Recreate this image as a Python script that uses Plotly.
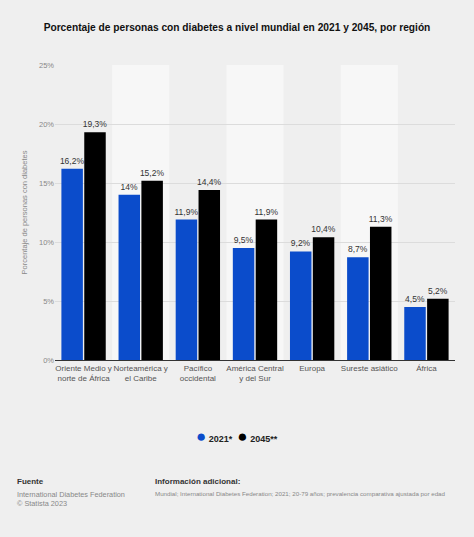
import plotly.graph_objects as go

# data
regions = [
	'Oriente Medio y<br>norte de África',
	'Norteamérica y<br>el Caribe',
	'Pacífico<br>occidental',
	'América Central<br>y del Sur',
	'Europa',
	'Sureste asiático',
	'África',
]
values_2021 = [16.2, 14.0, 11.9, 9.5, 9.2, 8.7, 4.5]
values_2045 = [19.3, 15.2, 14.4, 11.9, 10.4, 11.3, 5.2]
series_names = ['2021*', '2045**']
y_ticks = [0, 5, 10, 15, 20, 25]

BLUE = '#0b4ccb'
BLACK = '#000000'
BG = '#efefef'
FONT = 'Liberation Sans, Arial'

W, H = 474, 537
L, R, T, B = 55, 19, 65, 177


def label(v):
	s = f'{v:.1f}'.replace('.', ',')
	if s.endswith(',0'):
		s = s[:-2]
	return s + '%'


def px_y(y):
	# pixel row from top -> paper y
	return (H - B - y) / (H - T - B)


def px_x(x):
	return (x - L) / (W - L - R)


fig = go.Figure()

colors = [BLUE, BLACK]
for name, vals, color in zip(series_names, [values_2021, values_2045], colors):
	fig.add_trace(go.Bar(
		x=regions,
		y=vals,
		name=name,
		marker={'color': color, 'line': {'width': 0}},
		text=[label(v) for v in vals],
		textposition='outside',
		constraintext='none',
		textfont={'size': 8.5, 'color': '#333333', 'family': FONT},
		cliponaxis=False,
		showlegend=False,
	))

# alternating column bands
for i in range(len(regions)):
	if i % 2 == 1:
		fig.add_shape(
			type='rect', xref='x', yref='paper',
			x0=i - 0.5, x1=i + 0.5, y0=0, y1=1,
			fillcolor='#f7f7f7', line={'width': 0}, layer='below',
		)

fig.update_layout(
	width=W,
	height=H,
	paper_bgcolor=BG,
	plot_bgcolor=BG,
	font={'family': FONT, 'color': '#555555'},
	margin={'l': L, 'r': R, 't': T, 'b': B},
	barmode='group',
	bargap=0.2,
	bargroupgap=0.06,
	showlegend=False,
	title={
		'text': '<b>Porcentaje de personas con diabetes a nivel mundial en 2021 y 2045, por región</b>',
		'font': {'size': 10.2, 'color': '#111111', 'family': FONT},
		'x': 0.5, 'xanchor': 'center', 'xref': 'container', 'y': 1 - 27 / H, 'yanchor': 'middle',
	},
	xaxis={
		'tickfont': {'size': 8, 'color': '#555555'},
		'tickangle': 0,
		'showline': True, 'linecolor': '#333333', 'linewidth': 1,
		'ticks': '', 'showgrid': False,
	},
	yaxis={
		'range': [0, 25],
		'tickvals': y_ticks,
		'ticktext': [f'{t}%' for t in y_ticks],
		'tickfont': {'size': 7.5, 'color': '#888888'},
		'showgrid': True, 'gridcolor': '#dcdcdc', 'gridwidth': 1,
		'zeroline': False,
		'title': {'text': 'Porcentaje de personas con diabetes', 'font': {'size': 7.5, 'color': '#888888'}, 'standoff': 10},
	},
)

# legend (compact, circle markers)
legend_text = '  '.join(
	f'<span style="color:{c};font-size:17px">●</span> <b>{n}</b>'
	for n, c in zip(series_names, colors)
)
fig.add_annotation(
	xref='paper', yref='paper', x=px_x(237), y=px_y(436),
	text=legend_text, showarrow=False, xanchor='center', yanchor='middle',
	font={'size': 9, 'color': '#222222'},
)

# footer
for x, txt in [(15, '<b>Fuente</b>'), (153, '<b>Información adicional:</b>')]:
	fig.add_annotation(
		xref='paper', yref='paper', x=px_x(x), y=px_y(481),
		text=txt, showarrow=False, xanchor='left', yanchor='middle',
		font={'size': 8, 'color': '#333333'},
	)
fig.add_annotation(
	xref='paper', yref='paper', x=px_x(15), y=px_y(488),
	text='International Diabetes Federation<br>© Statista 2023', showarrow=False,
	xanchor='left', yanchor='top', align='left',
	font={'size': 7.3, 'color': '#888888'},
)
fig.add_annotation(
	xref='paper', yref='paper', x=px_x(153), y=px_y(488),
	text='Mundial; International Diabetes Federation; 2021; 20-79 años; prevalencia comparativa ajustada por edad',
	showarrow=False, xanchor='left', yanchor='top', align='left',
	font={'size': 6.2, 'color': '#888888'},
)

fig.write_html(
	'out.html',
	config={'displayModeBar': False},
	post_script="document.body.style.margin='0';document.body.style.overflow='hidden';",
)
